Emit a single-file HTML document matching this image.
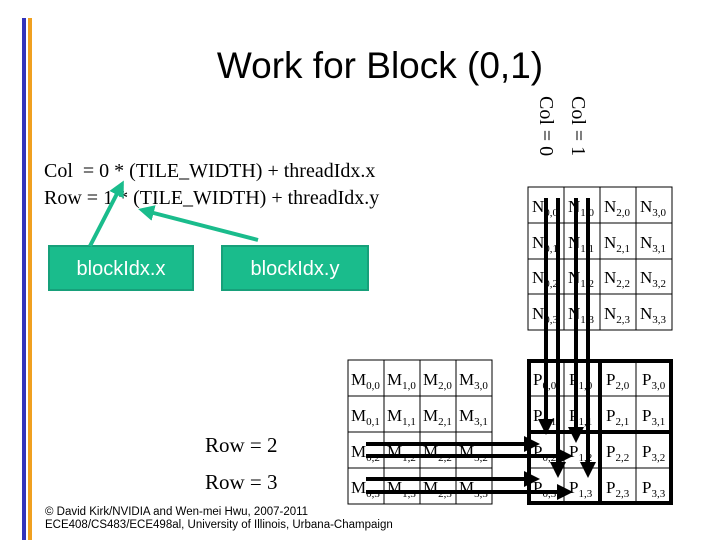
<!DOCTYPE html>
<html><head><meta charset="utf-8"><style>
html,body{margin:0;padding:0;background:#fff;}
svg{display:block;}
.s{font-family:"Liberation Serif",serif;font-size:17px;fill:#000;}
.sb{font-size:11px;}
</style></head><body>
<svg width="720" height="540" viewBox="0 0 720 540" xmlns="http://www.w3.org/2000/svg">
<defs>
<marker id="ah" markerWidth="4" markerHeight="4" refX="3" refY="2" orient="auto" markerUnits="strokeWidth"><path d="M0,0 L4,2 L0,4 Z" fill="#000"/></marker>
<marker id="gh" markerWidth="4" markerHeight="4" refX="3" refY="2" orient="auto" markerUnits="strokeWidth"><path d="M0,0 L4,2 L0,4 Z" fill="#1abc8c"/></marker>
</defs>
<rect x="22" y="18" width="4" height="522" fill="#3333bb"/>
<rect x="28" y="18" width="4" height="522" fill="#f0a020"/>
<text x="380" y="78" text-anchor="middle" font-family="Liberation Sans,sans-serif" font-size="37">Work for Block (0,1)</text>

<text x="44" y="177" font-family="Liberation Serif,serif" font-size="20" xml:space="preserve">Col  = 0 * (TILE_WIDTH) + threadIdx.x</text>
<text x="44" y="204" font-family="Liberation Serif,serif" font-size="20">Row = 1 * (TILE_WIDTH) + threadIdx.y</text>

<rect x="49" y="246" width="144" height="44" fill="#1abc8c" stroke="#17a07a" stroke-width="2"/>
<text x="121" y="275" text-anchor="middle" font-family="Liberation Sans,sans-serif" font-size="20" fill="#fff">blockIdx.x</text>
<rect x="222" y="246" width="146" height="44" fill="#1abc8c" stroke="#17a07a" stroke-width="2"/>
<text x="295" y="275" text-anchor="middle" font-family="Liberation Sans,sans-serif" font-size="20" fill="#fff">blockIdx.y</text>
<line x1="90" y1="246" x2="122" y2="184" stroke="#1abc8c" stroke-width="4" marker-end="url(#gh)"/>
<line x1="258" y1="240" x2="142" y2="210" stroke="#1abc8c" stroke-width="4" marker-end="url(#gh)"/>

<text transform="translate(540,96) rotate(90)" font-family="Liberation Serif,serif" font-size="20">Col = 0</text>
<text transform="translate(572,96) rotate(90)" font-family="Liberation Serif,serif" font-size="20">Col = 1</text>

<!-- N grid -->
<g fill="none" stroke="#000" stroke-width="1">
<rect x="528" y="187" width="144" height="143"/>
<line x1="564" y1="187" x2="564" y2="330"/><line x1="600" y1="187" x2="600" y2="330"/><line x1="636" y1="187" x2="636" y2="330"/>
<line x1="528" y1="223" x2="672" y2="223"/><line x1="528" y1="259" x2="672" y2="259"/><line x1="528" y1="294" x2="672" y2="294"/>
</g>
<g class="s">
<text x="532" y="212">N<tspan class="sb" dy="4">0,0</tspan></text><text x="568" y="212">N<tspan class="sb" dy="4">1,0</tspan></text><text x="604" y="212">N<tspan class="sb" dy="4">2,0</tspan></text><text x="640" y="212">N<tspan class="sb" dy="4">3,0</tspan></text>
<text x="532" y="248">N<tspan class="sb" dy="4">0,1</tspan></text><text x="568" y="248">N<tspan class="sb" dy="4">1,1</tspan></text><text x="604" y="248">N<tspan class="sb" dy="4">2,1</tspan></text><text x="640" y="248">N<tspan class="sb" dy="4">3,1</tspan></text>
<text x="532" y="283">N<tspan class="sb" dy="4">0,2</tspan></text><text x="568" y="283">N<tspan class="sb" dy="4">1,2</tspan></text><text x="604" y="283">N<tspan class="sb" dy="4">2,2</tspan></text><text x="640" y="283">N<tspan class="sb" dy="4">3,2</tspan></text>
<text x="532" y="319">N<tspan class="sb" dy="4">0,3</tspan></text><text x="568" y="319">N<tspan class="sb" dy="4">1,3</tspan></text><text x="604" y="319">N<tspan class="sb" dy="4">2,3</tspan></text><text x="640" y="319">N<tspan class="sb" dy="4">3,3</tspan></text>
</g>

<!-- M grid -->
<g fill="none" stroke="#000" stroke-width="1">
<rect x="348" y="360" width="144" height="144"/>
<line x1="384" y1="360" x2="384" y2="504"/><line x1="420" y1="360" x2="420" y2="504"/><line x1="456" y1="360" x2="456" y2="504"/>
<line x1="348" y1="396" x2="492" y2="396"/><line x1="348" y1="432" x2="492" y2="432"/><line x1="348" y1="468" x2="492" y2="468"/>
</g>
<g class="s">
<text x="351" y="385">M<tspan class="sb" dy="4">0,0</tspan></text><text x="387" y="385">M<tspan class="sb" dy="4">1,0</tspan></text><text x="423" y="385">M<tspan class="sb" dy="4">2,0</tspan></text><text x="459" y="385">M<tspan class="sb" dy="4">3,0</tspan></text>
<text x="351" y="421">M<tspan class="sb" dy="4">0,1</tspan></text><text x="387" y="421">M<tspan class="sb" dy="4">1,1</tspan></text><text x="423" y="421">M<tspan class="sb" dy="4">2,1</tspan></text><text x="459" y="421">M<tspan class="sb" dy="4">3,1</tspan></text>
<text x="351" y="457">M<tspan class="sb" dy="4">0,2</tspan></text><text x="387" y="457">M<tspan class="sb" dy="4">1,2</tspan></text><text x="423" y="457">M<tspan class="sb" dy="4">2,2</tspan></text><text x="459" y="457">M<tspan class="sb" dy="4">3,2</tspan></text>
<text x="351" y="493">M<tspan class="sb" dy="4">0,3</tspan></text><text x="387" y="493">M<tspan class="sb" dy="4">1,3</tspan></text><text x="423" y="493">M<tspan class="sb" dy="4">2,3</tspan></text><text x="459" y="493">M<tspan class="sb" dy="4">3,3</tspan></text>
</g>

<!-- P grid -->
<g fill="none" stroke="#000">
<line x1="564" y1="360" x2="564" y2="504" stroke-width="1"/><line x1="636" y1="360" x2="636" y2="504" stroke-width="1"/>
<line x1="528" y1="396" x2="672" y2="396" stroke-width="1"/><line x1="528" y1="468" x2="672" y2="468" stroke-width="1"/>
<rect x="529" y="361" width="142" height="142" stroke-width="4"/>
<line x1="600" y1="360" x2="600" y2="504" stroke-width="4"/>
<line x1="528" y1="432" x2="672" y2="432" stroke-width="4"/>
</g>
<g class="s">
<text x="533" y="385">P<tspan class="sb" dy="4">0,0</tspan></text><text x="569" y="385">P<tspan class="sb" dy="4">1,0</tspan></text><text x="606" y="385">P<tspan class="sb" dy="4">2,0</tspan></text><text x="642" y="385">P<tspan class="sb" dy="4">3,0</tspan></text>
<text x="533" y="421">P<tspan class="sb" dy="4">0,1</tspan></text><text x="569" y="421">P<tspan class="sb" dy="4">1,1</tspan></text><text x="606" y="421">P<tspan class="sb" dy="4">2,1</tspan></text><text x="642" y="421">P<tspan class="sb" dy="4">3,1</tspan></text>
<text x="533" y="457">P<tspan class="sb" dy="4">0,2</tspan></text><text x="569" y="457">P<tspan class="sb" dy="4">1,2</tspan></text><text x="606" y="457">P<tspan class="sb" dy="4">2,2</tspan></text><text x="642" y="457">P<tspan class="sb" dy="4">3,2</tspan></text>
<text x="533" y="493">P<tspan class="sb" dy="4">0,3</tspan></text><text x="569" y="493">P<tspan class="sb" dy="4">1,3</tspan></text><text x="606" y="493">P<tspan class="sb" dy="4">2,3</tspan></text><text x="642" y="493">P<tspan class="sb" dy="4">3,3</tspan></text>
</g>

<!-- vertical arrows -->
<g stroke="#000" stroke-width="4">
<line x1="546" y1="198" x2="546" y2="431" marker-end="url(#ah)"/>
<line x1="558" y1="198" x2="558" y2="474" marker-end="url(#ah)"/>
<line x1="576" y1="198" x2="576" y2="439" marker-end="url(#ah)"/>
<line x1="588" y1="198" x2="588" y2="474" marker-end="url(#ah)"/>
<line x1="366" y1="444" x2="536" y2="444" marker-end="url(#ah)"/>
<line x1="366" y1="456" x2="569" y2="456" marker-end="url(#ah)"/>
<line x1="366" y1="479" x2="536" y2="479" marker-end="url(#ah)"/>
<line x1="366" y1="492" x2="569" y2="492" marker-end="url(#ah)"/>
</g>

<text x="205" y="452" font-family="Liberation Serif,serif" font-size="21">Row = 2</text>
<text x="205" y="489" font-family="Liberation Serif,serif" font-size="21">Row = 3</text>
<text x="45" y="515" font-family="Liberation Sans,sans-serif" font-size="11.5">© David Kirk/NVIDIA and Wen-mei Hwu, 2007-2011</text>
<text x="45" y="528" font-family="Liberation Sans,sans-serif" font-size="11.5">ECE408/CS483/ECE498al, University of Illinois, Urbana-Champaign</text>
</svg>
</body></html>
